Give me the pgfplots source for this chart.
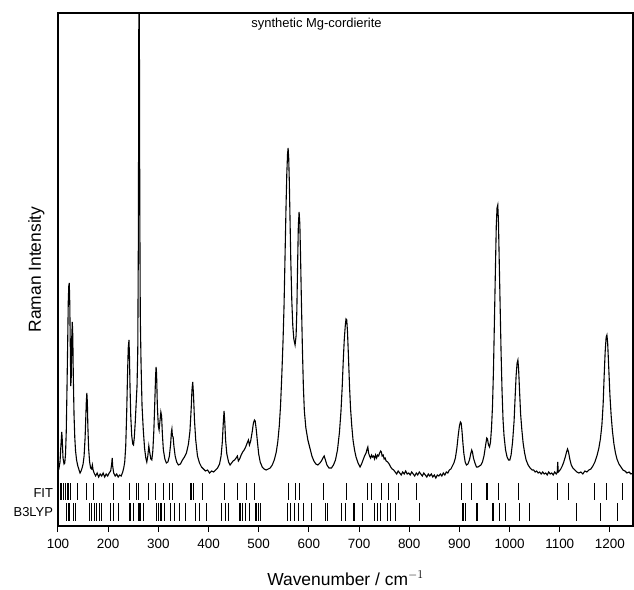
\documentclass[border=0pt]{standalone}
\usepackage{pgfplots}
\pgfplotsset{compat=1.18}
\usepackage{fontspec}
\setmainfont{Liberation Sans}
\begin{document}
\begin{tikzpicture}
\begin{axis}[
  name=ax,
  scale only axis, width=575bp, height=513bp,
  xmin=100, xmax=1246, ymin=0, ymax=513,
  xtick={100,200,...,1200}, ytick=\empty,
  xtick pos=bottom, tick align=outside, major tick length=6bp,
  tick style={black, line width=1bp},
  axis line style={line width=1.3bp},
  /pgf/number format/assume math mode=true,
  /pgf/number format/1000 sep={},
  xticklabel style={font=\fontsize{13.5}{15}\selectfont, yshift=-4bp},
  xlabel={Wavenumber / cm$^{-1}$},
  xlabel style={font=\fontsize{17.5}{19}\selectfont, at={(axis description cs:0.5,0)}, anchor=base, yshift=-59bp},
  ylabel={Raman Intensity},
  ylabel style={font=\fontsize{17.5}{19}\selectfont, at={(axis description cs:-0.0296,0.5)}, anchor=base},
  clip mode=individual,
]
\addplot[black, line width=1.1bp] coordinates {
(100,60)(102,58)(104,64)(106,82)(107.5,94)(108.5,86)(110,68)(112,62)(113.5,63)(115,72)(116.5,95)(118,140)(119.5,190)(120.5,225)(121.5,240)(122.5,243)(123.5,222)(124.5,180)(125.5,140)(126.5,150)(127.5,190)(128.5,204)(129.5,190)(130.5,150)(132,110)(133.5,88)(135,75)(137,66)(139.5,60)(142,56)(144,53)(146,55)(148,58)(150,62)(152,70)(154,88)(155.5,110)(156.5,125)(157.5,133)(158.5,124)(159.5,100)(161,78)(163,64)(165,58)(167,57)(168.5,61)(170,56)(172,53)(175,50)(178,53)(181,49)(184,52)(187,50)(190,53)(193,49)(196,52)(199,50)(202,53)(205,55)(207,62)(208,68)(209,60)(211,53)(214,50)(217,52)(220,49)(223,51)(226,50)(229,54)(231,58)(233,64)(235,80)(237,115)(238.5,150)(240,178)(241.5,186)(242.5,168)(243.5,140)(245,110)(247,90)(249,82)(250.5,81)(252,88)(254,104)(256,125)(257.5,140)(259,175)(260.3,300)(261.2,540)(262,540)(263,320)(264,210)(265.5,163)(267.5,120)(270,96)(272.5,78)(275,68)(277,64)(279,70)(281,80)(283,73)(285,67)(287,66)(289,75)(291,95)(293,125)(294.5,150)(295.5,159)(296.5,152)(298,120)(300,100)(301.5,96)(303,104)(305,114)(306.5,110)(308,92)(310,76)(313,67)(316,63)(319,64)(322,70)(324.5,82)(326,94)(327,97)(328,90)(329.5,89)(331,80)(333.5,70)(336.5,64)(340,61)(344,62)(348,66)(352,69)(356,73)(360,82)(363,95)(365.5,118)(367,136)(368.5,144)(370,132)(372,106)(374.5,86)(378,70)(382,63)(386,59)(390,57)(394,55)(398,56)(402,53)(406,55)(410,54)(414,56)(418,58)(422,62)(425,70)(427.5,84)(429.5,104)(431,115)(432.5,103)(434,86)(436.5,72)(440,64)(443,61)(446,63)(449,65)(452,66)(455,68)(457.5,70)(459.5,65)(462,67)(465,71)(468,74)(471,76)(474,79)(477,83)(479.5,86)(481.5,81)(484,85)(487,94)(489.5,103)(491.5,106)(493,105)(495,97)(497.5,84)(500,72)(503,64)(507,59)(511,57)(515,56)(519,57)(523,58)(527,61)(531,66)(535,74)(538,84)(541,100)(543.5,120)(546,150)(548.5,185)(550.5,220)(552.5,270)(554.5,320)(556,352)(557.5,372)(558.6,378)(559.8,368)(561,345)(562.5,305)(564,265)(566,225)(568,200)(570,187)(572.5,181)(574.5,190)(576,215)(577.5,260)(579,300)(580.5,314)(582,302)(583.5,268)(585,228)(587,180)(589,140)(591,115)(594,98)(598,86)(602,78)(606,70)(610,65)(614,62)(618,61)(622,63)(625,65)(628,68)(630.5,70)(633,66)(636,61)(640,58)(645,58)(649,61)(653,66)(657,76)(661,94)(664,115)(666.5,140)(668.5,165)(670.5,186)(672.5,200)(674,207)(675.5,206)(677,194)(679,168)(681,140)(683,118)(685.5,100)(688,86)(691,76)(694,69)(698,63)(702,59)(705,62)(708,66)(711,70)(714,73)(716,77)(717.5,79)(719,73)(721,70)(723,68)(725,71)(727,69)(729,70)(731,67)(733,71)(735,68)(737,71)(739,70)(741,73)(743,75)(744.5,74)(746,70)(748,71)(750,67)(752,68)(754,65)(757,64)(760,62)(763,59)(766,57)(769,56)(772,54)(775,52)(778,55)(781,53)(784,51)(787,54)(790,52)(793,55)(796,52)(799,53)(802,51)(805,54)(808,52)(811,50)(814,53)(817,51)(820,54)(823,52)(826,50)(829,53)(832,51)(835,49)(838,52)(841,50)(844,52)(847,49)(850,51)(853,48)(856,51)(859,50)(862,52)(865,50)(868,53)(871,51)(874,54)(877,53)(880,56)(883,57)(886,60)(889,63)(892,68)(895,78)(897.5,90)(900,100)(902,104)(903.5,103)(905,96)(907,83)(909,72)(911.5,64)(914,61)(917,62)(920,66)(922.5,72)(924.5,76)(926,74)(928,68)(931,63)(934,59)(937,59)(940,60)(943,61)(946,64)(949,70)(952,80)(954.5,88)(956,87)(958,81)(960,79)(962,84)(964,98)(966,120)(968,158)(970,210)(972,262)(973.5,300)(975,318)(976.5,321)(977.8,305)(979,275)(981,225)(983,175)(985,135)(987,106)(989,90)(992,76)(995,69)(998,66)(1000.5,66)(1003,71)(1006,84)(1009,105)(1011,128)(1013,150)(1015,163)(1016.6,166)(1018,157)(1020,134)(1022,112)(1024.5,96)(1027,83)(1030,73)(1033,66)(1037,61)(1041,58)(1045,56)(1048,56)(1051,54)(1054,55)(1057,53)(1060,54)(1063,52)(1066,54)(1069,52)(1072,53)(1075,51)(1078,54)(1081,52)(1084,53)(1087,51)(1090,54)(1093,52)(1095,54)(1096,64)(1097,54)(1099,55)(1102,57)(1105,60)(1108,64)(1111,69)(1113.5,74)(1115.5,77)(1117.5,74)(1120,67)(1123,61)(1126,58)(1130,56)(1134,54)(1138,53)(1142,54)(1146,52)(1150,55)(1154,54)(1158,56)(1162,57)(1166,60)(1170,64)(1174,70)(1178,78)(1181,87)(1184,101)(1186.5,122)(1188.5,150)(1190.5,174)(1192.5,189)(1194,191)(1195.5,183)(1197.5,160)(1200,131)(1202.5,110)(1205,95)(1208,82)(1211,73)(1214,67)(1218,62)(1222,59)(1226,56)(1230,55)(1234,53)(1238,54)(1242,52)(1246,53)
};
% FIT
\addplot[only marks, mark=|, mark size=8.5bp, mark options={line width=1.1bp, black}] coordinates {
(106,34.5)(110.5,34.5)(115,34.5)(120,34.5)(125,34.5)(139,34.5)(157,34.5)(170,34.5)(210,34.5)(242,34.5)(257,34.5)(261,34.5)(280,34.5)(295,34.5)(310,34.5)(323,34.5)(329,34.5)(365,34.5)(370,34.5)(388,34.5)(432,34.5)(457,34.5)(476,34.5)(492,34.5)(559,34.5)(574,34.5)(581,34.5)(630,34.5)(675.5,34.5)(717,34.5)(725.5,34.5)(745.5,34.5)(758.5,34.5)(778.5,34.5)(815,34.5)(905,34.5)(925,34.5)(955,34.5)(978,34.5)(1018,34.5)(1096,34.5)(1117.5,34.5)(1169,34.5)(1194,34.5)(1225,34.5)
};
% B3LYP
\addplot[only marks, mark=|, mark size=9bp, mark options={line width=1.1bp, black}] coordinates {
(117,14)(122,14)(130.5,14)(134.5,14)(162.5,14)(167,14)(172,14)(177,14)(182,14)(187.5,14)(205,14)(211.5,14)(221,14)(243.5,14)(250,14)(260,14)(263.5,14)(270,14)(297,14)(300,14)(303.5,14)(306.5,14)(311.5,14)(325,14)(333,14)(343,14)(355,14)(374,14)(382,14)(396.5,14)(426.5,14)(433,14)(439.5,14)(461.5,14)(464,14)(467,14)(474,14)(481.5,14)(493,14)(496,14)(499.5,14)(503,14)(557,14)(562.5,14)(570.5,14)(579,14)(589,14)(604.5,14)(632.5,14)(637,14)(665.5,14)(672.5,14)(690,14)(706,14)(730,14)(737,14)(742,14)(757,14)(762,14)(773,14)(820,14)(907,14)(909,14)(911.5,14)(935,14)(967,14)(980,14)(991,14)(1020,14)(1039,14)(1134,14)(1180.5,14)(1215,14)
};
\node[anchor=base, font=\fontsize{13}{15}\selectfont] at (axis description cs:0.4496,0.9708) {synthetic Mg-cordierite};
\node[anchor=base east, font=\fontsize{13}{15}\selectfont, xshift=-1.5bp] at (axis cs:100,29) {FIT};
\node[anchor=base east, font=\fontsize{13}{15}\selectfont, xshift=-1.5bp] at (axis cs:100,10) {B3LYP};
\end{axis}
\pgfresetboundingbox
\path (ax.south west) ++(-58bp,-64bp) coordinate (bl);
\path (ax.north east) ++(1bp,13bp) coordinate (tr);
\path[use as bounding box] (bl) rectangle (tr);
\end{tikzpicture}
\end{document}
